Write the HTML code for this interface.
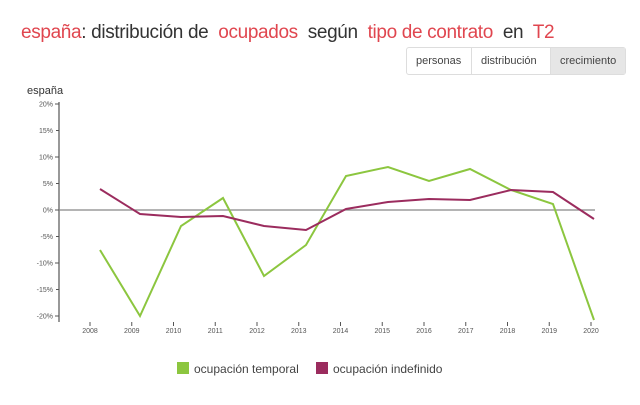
<!DOCTYPE html>
<html><head><meta charset="utf-8"><style>
body{margin:0;background:#fff;width:640px;height:405px;overflow:hidden;font-family:"Liberation Sans",sans-serif}
.t{position:absolute;left:21px;top:22px;font-size:19px;color:#333;white-space:nowrap;letter-spacing:-0.35px}
.r{color:#e0464f}
.btns{position:absolute;left:406px;top:47px;display:flex;border:1px solid #ddd;border-radius:3px;font-size:11px;color:#444}
.btns div{padding:0 9px;height:26px;line-height:26px;border-left:1px solid #ddd}
.btns div:first-child{border-left:none}
</style></head><body>
<div class="t"><span class="r">españa</span>: distribución de&nbsp; <span class="r">ocupados</span>&nbsp; según&nbsp; <span class="r">tipo de contrato</span>&nbsp; en&nbsp; <span class="r">T2</span></div>
<div class="btns"><div style="width:46px">personas</div><div style="width:60px">distribución</div><div style="background:#e6e6e6;width:56px">crecimiento</div></div>
<svg width="640" height="405" style="position:absolute;left:0;top:0" font-family="Liberation Sans, sans-serif">
<text x="27" y="94" font-size="11" fill="#333">españa</text>
<g font-size="7" fill="#555" text-anchor="end" id="yl"></g>
<line x1="59" y1="102" x2="59" y2="322" stroke="#555" stroke-width="1.2"/>
<g stroke="#555" stroke-width="1">
<line x1="55" y1="104" x2="59" y2="104"/><line x1="55" y1="157" x2="59" y2="157"/><line x1="55" y1="210" x2="59" y2="210"/>
<line x1="55" y1="263" x2="59" y2="263"/><line x1="55" y1="316" x2="59" y2="316"/>
<line x1="56" y1="130.5" x2="59" y2="130.5"/><line x1="56" y1="183.5" x2="59" y2="183.5"/><line x1="56" y1="236.5" x2="59" y2="236.5"/><line x1="56" y1="289.5" x2="59" y2="289.5"/>
</g>
<line x1="59" y1="210" x2="595" y2="210" stroke="#888" stroke-width="1.3"/>
<polyline fill="none" stroke="#8cc63f" stroke-width="2" points="100,250 140,316 181,226 223,198 264,276 306,245 346,176 388,167 429,181 470,169 511,190 553,204 594,320"/>
<polyline fill="none" stroke="#9b2c5e" stroke-width="2" points="100,189 140,214 181,217 223,216 264,226 306,230 346,209 388,202 429,199 470,200 511,190 553,192 594,219"/>
<g font-size="7" fill="#555" text-anchor="middle" id="xl"></g>
<rect x="177" y="362" width="12" height="12" fill="#8cc63f"/>
<text x="194" y="373" font-size="12" fill="#444">ocupación temporal</text>
<rect x="316" y="362" width="12" height="12" fill="#9b2c5e"/>
<text x="333" y="373" font-size="12" fill="#444">ocupación indefinido</text>
</svg>
<script>
var ns="http://www.w3.org/2000/svg";
var yl=document.getElementById("yl");
var labs=["20%","15%","10%","5%","0%","-5%","-10%","-15%","-20%"];
labs.forEach(function(l,i){var t=document.createElementNS(ns,"text");t.setAttribute("x",53);t.setAttribute("y",106.5+i*26.5);t.textContent=l;yl.appendChild(t);});
var xl=document.getElementById("xl");
for(var i=0;i<13;i++){var x=90+i*41.75;var t=document.createElementNS(ns,"text");t.setAttribute("x",x);t.setAttribute("y",333);t.textContent=2008+i;xl.appendChild(t);
var ln=document.createElementNS(ns,"line");ln.setAttribute("x1",x);ln.setAttribute("x2",x);ln.setAttribute("y1",322);ln.setAttribute("y2",326);ln.setAttribute("stroke","#555");xl.appendChild(ln);}
</script>
</body></html>
